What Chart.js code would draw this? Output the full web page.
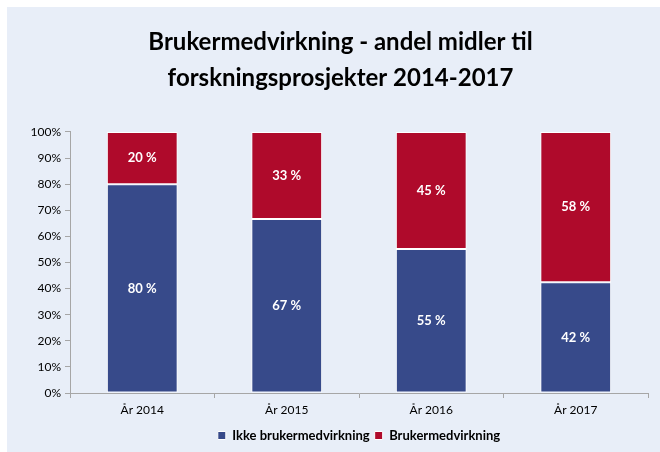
<!DOCTYPE html>
<html>
<head>
<meta charset="utf-8">
<script src="https://cdn.jsdelivr.net/npm/chart.js@4"></script>
<style>
  html, body { margin: 0; padding: 0; background: #ffffff; }
  canvas { display: block; }
</style>
</head>
<body>
<canvas id="chart" width="660" height="452"></canvas>
<script>
// data
const years = ['År 2014', 'År 2015', 'År 2016', 'År 2017'];
const ikkeBruker = [80, 66.7, 55.2, 42.4];
const bruker = [20, 33.3, 44.8, 57.6];
const yTicks = [0, 10, 20, 30, 40, 50, 60, 70, 80, 90, 100];

const titleLines = ['Brukermedvirkning - andel midler til', 'forskningsprosjekter 2014-2017'];

// light blue panel behind everything
const panelBg = {
  id: 'panelBg',
  beforeDraw(chart) {
    const ctx = chart.ctx;
    ctx.save();
    ctx.fillStyle = '#ffffff';
    ctx.fillRect(0, 0, chart.width, chart.height);
    ctx.fillStyle = '#E8EEF8';
    ctx.fillRect(7, 7, chart.width - 7, chart.height - 7);
    ctx.restore();
  }
};

// move title / legend centers like in the original
const shiftBoxes = {
  id: 'shiftBoxes',
  afterLayout(chart) {
    const ca = chart.chartArea;
    const lg = chart.legend;
    lg.left = ca.left;
    lg.right = ca.right;
    const t = chart.titleBlock;
    t.left = 7;
    t.right = 674;
  }
};

// white percent labels inside each segment
const segLabels = {
  id: 'segLabels',
  afterDatasetsDraw(chart) {
    const ctx = chart.ctx;
    ctx.save();
    ctx.fillStyle = '#ffffff';
    ctx.font = 'bold 13px Lato';
    ctx.textAlign = 'center';
    ctx.textBaseline = 'middle';
    chart.data.datasets.forEach((ds, i) => {
      const meta = chart.getDatasetMeta(i);
      meta.data.forEach((bar, j) => {
        const y = (bar.y + bar.base) / 2;
        ctx.fillText(Math.round(ds.data[j]) + ' %', bar.x, y);
      });
    });
    ctx.restore();
  }
};

new Chart(document.getElementById('chart').getContext('2d'), {
  type: 'bar',
  data: {
    labels: years,
    datasets: [{
      label: 'Ikke brukermedvirkning',
      data: ikkeBruker,
      backgroundColor: '#374A8A',
      borderColor: '#ffffff',
      borderWidth: 1,
      borderSkipped: false,
      categoryPercentage: 1,
      barPercentage: 0.49
    }, {
      label: 'Brukermedvirkning',
      data: bruker,
      backgroundColor: '#AF0A2B',
      borderColor: '#ffffff',
      borderWidth: 1,
      borderSkipped: false,
      categoryPercentage: 1,
      barPercentage: 0.49
    }]
  },
  options: {
    responsive: false,
    animation: false,
    layout: { padding: { left: 7, top: 7, right: 12, bottom: 0 } },
    plugins: {
      title: {
        display: true,
        text: titleLines,
        color: '#000000',
        font: { family: 'Lato', size: 24, weight: 'bold', lineHeight: 1.52 },
        padding: { top: 17, bottom: 35 }
      },
      legend: {
        display: true,
        position: 'bottom',
        labels: {
          color: '#000000',
          font: { family: 'Lato', size: 13, weight: 'bold' },
          boxWidth: 8,
          boxHeight: 8,
          padding: 5
        }
      },
      tooltip: { enabled: false }
    },
    scales: {
      x: {
        stacked: true,
        afterFit(scale) { scale.height = 31; },
        grid: { display: true, drawOnChartArea: false, drawTicks: true, tickLength: 5, color: '#A6A6A6', offset: true },
        border: { color: '#A6A6A6' },
        ticks: { color: '#000000', font: { family: 'Lato', size: 12 }, padding: 5 }
      },
      y: {
        stacked: true,
        min: 0,
        max: 100,
        afterFit(scale) { scale.width = 63; },
        afterBuildTicks(scale) { scale.ticks = yTicks.map(v => ({ value: v })); },
        grid: { display: true, drawOnChartArea: false, drawTicks: true, tickLength: 5, color: '#A6A6A6' },
        border: { color: '#A6A6A6' },
        ticks: {
          color: '#000000',
          font: { family: 'Lato', size: 12 },
          padding: 4,
          callback: v => v + '%'
        }
      }
    }
  },
  plugins: [panelBg, shiftBoxes, segLabels]
});
</script>
</body>
</html>
